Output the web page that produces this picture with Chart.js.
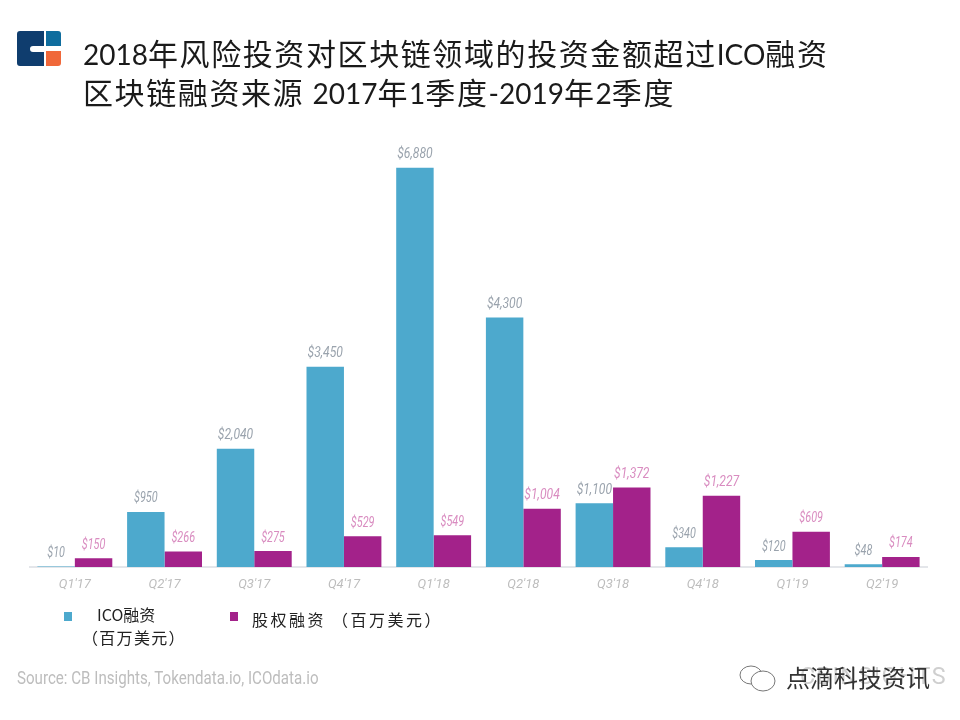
<!DOCTYPE html>
<html>
<head>
<meta charset="utf-8">
<script src="https://cdn.jsdelivr.net/npm/chart.js@4/dist/chart.umd.min.js"></script>
<style>
html, body { margin: 0; padding: 0; background: #fff; }
#wrap { position: relative; width: 960px; height: 720px; overflow: hidden; font-family: "Noto Sans CJK SC", sans-serif; }
#wrap canvas { position: absolute; left: 0; top: 0; }
.txt { position: absolute; white-space: nowrap; line-height: 1; }
.title { left: 83px; font-size: 30px; color: #1a1a1a; letter-spacing: 1.6px; }
.title span { letter-spacing: 0; font-family: Lato, sans-serif; font-size: 28px; }
.leg { font-size: 16px; color: #222; letter-spacing: 2.5px; }
.mark { position: absolute; width: 8px; height: 9px; }
</style>
</head>
<body>
<div id="wrap">
  <canvas id="grafico" width="960" height="720"></canvas>

  <!-- logo -->
  <svg style="position:absolute;left:17px;top:31px" width="44" height="35">
    <path d="M3 0H27V15H16a3 3 0 0 0 0 6H27V35H3a3 3 0 0 1-3-3V3a3 3 0 0 1 3-3z" fill="#0f3d6e"/>
    <path d="M29 0H41a3 3 0 0 1 3 3V15H29z" fill="#0f6d9e"/>
    <path d="M29 20H44V32a3 3 0 0 1-3 3H29z" fill="#f0683a"/>
  </svg>

  <div class="txt title" style="top:37px"><span>2018</span>年风险投资对区块链领域的投资金额超过<span>ICO</span>融资</div>
  <div class="txt title" style="top:76px">区块链融资来源 <span>2017</span>年<span>1</span>季度<span>-2019</span>年<span>2</span>季度</div>

  <!-- legenda -->
  <div class="mark" style="left:64px;top:612px;background:#4da9cd"></div>
  <div class="txt leg" style="left:97px;top:606px;letter-spacing:0">ICO融资</div>
  <div class="txt leg" style="left:82px;top:629px;letter-spacing:1.3px">（百万美元）</div>
  <div class="mark" style="left:230px;top:612px;background:#a3228a"></div>
  <div class="txt leg" style="left:252px;top:611px">股权融资 （百万美元）</div>

  <div class="txt" style="left:17px;top:669px;font-family:Roboto;font-size:18px;color:#bdbdbd;transform-origin:0 0;transform:scaleX(0.84)">Source: CB Insights, Tokendata.io, ICOdata.io</div>

  <!-- marca d'agua -->
  <div class="txt" style="left:800px;top:664px;font-family:Roboto;font-size:24px;letter-spacing:1.5px;color:#cfcfcf;transform-origin:0 0;transform:scaleX(0.97)">CBINSIGHTS</div>
  <svg style="position:absolute;left:738px;top:664px" width="42" height="30" fill="#fff" stroke="#777" stroke-width="1">
    <ellipse cx="13" cy="11" rx="11" ry="9"/>
    <ellipse cx="25" cy="17" rx="12" ry="10"/>
  </svg>
  <div class="txt" style="left:786px;top:665px;font-size:24px;color:#333">点滴科技资讯</div>
</div>

<script>
// dados
var trimestres = ["Q1'17", "Q2'17", "Q3'17", "Q4'17", "Q1'18", "Q2'18", "Q3'18", "Q4'18", "Q1'19", "Q2'19"];
var ico = [10, 950, 2040, 3450, 6880, 4300, 1100, 340, 120, 48];
var equity = [150, 266, 275, 529, 549, 1004, 1372, 1227, 609, 174];
var eixoMax = 7360;

// Escreve o valor em cima de cada barra
var rotulos = {
    id: "rotulos",
    afterDatasetsDraw: function (chart) {
        var ctx = chart.ctx;
        ctx.save();
        ctx.textAlign = "center";
        ctx.textBaseline = "middle";
        ctx.font = "italic 14px Roboto";
        chart.data.datasets.forEach(function (ds, d) {
            ctx.fillStyle = d === 0 ? "#9aa3ad" : "#d98cc0";
            chart.getDatasetMeta(d).data.forEach(function (bar, i) {
                var texto = "$" + ds.data[i].toLocaleString("en-US");
                ctx.fillText(texto, bar.x, bar.y - 13, texto.length * 5.9);
            });
        });
        ctx.restore();
    }
};

var config = {
    type: "bar",
    data: {
        labels: trimestres,
        datasets: [
            { label: "ICO融资（百万美元）", data: ico, backgroundColor: "#4da9cd" },
            { label: "股权融资（百万美元）", data: equity, backgroundColor: "#a3228a" }
        ]
    },
    options: {
        responsive: false,
        animation: false,
        devicePixelRatio: 1,
        categoryPercentage: 0.835,
        barPercentage: 1,
        layout: { padding: { left: 30, right: 33, top: 140, bottom: 0 } },
        plugins: { legend: { display: false }, tooltip: { enabled: false } },
        scales: {
            x: {
                grid: { display: false },
                border: { color: "#e4e6ea", width: 2 },
                ticks: {
                    color: "#bdbdbd",
                    padding: 2,
                    maxRotation: 0,
                    font: { family: "Roboto", size: 13, style: "italic" }
                },
                afterFit: function (scale) { scale.height = 153; }
            },
            y: { display: false, min: 0, max: eixoMax }
        }
    },
    plugins: [rotulos]
};

var myChart = new Chart(document.getElementById("grafico"), config);
</script>
</body>
</html>
